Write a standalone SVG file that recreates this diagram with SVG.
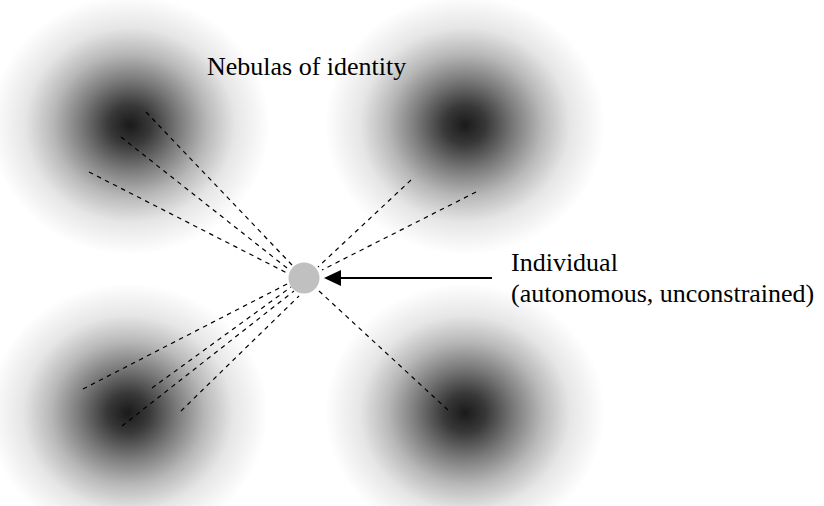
<svg xmlns="http://www.w3.org/2000/svg" width="824" height="506" viewBox="0 0 824 506">
<defs>
<radialGradient id="neb" cx="50%" cy="50%" r="50%">
<stop offset="0" stop-color="#000" stop-opacity="0.9"/>
<stop offset="0.15" stop-color="#000" stop-opacity="0.78"/>
<stop offset="0.35" stop-color="#000" stop-opacity="0.52"/>
<stop offset="0.55" stop-color="#000" stop-opacity="0.28"/>
<stop offset="0.75" stop-color="#000" stop-opacity="0.1"/>
<stop offset="1" stop-color="#000" stop-opacity="0"/>
</radialGradient>
</defs>
<style>
.neb{fill:url(#neb)}
.dash{stroke:#000;stroke-width:1.2;stroke-dasharray:4.5 4.5;fill:none}
.lbl{font-family:"Liberation Serif",Tinos,Times,"Noto Serif","DejaVu Serif",FreeSerif,serif;font-size:26px;fill:#000}
</style>
<rect width="824" height="506" fill="#fff"/>
<g id="nebula-tl"><ellipse class="neb" cx="130" cy="125" rx="140" ry="130"/></g>
<g id="nebula-tr"><ellipse class="neb" cx="465" cy="125" rx="140" ry="130"/></g>
<g id="nebula-bl"><ellipse class="neb" cx="128" cy="413" rx="140" ry="130"/></g>
<g id="nebula-br"><ellipse class="neb" cx="465" cy="413" rx="140" ry="130"/></g>
<g id="connectors">
<line class="dash" x1="146" y1="112" x2="292" y2="265"/>
<line class="dash" x1="121" y1="137" x2="287" y2="268"/>
<line class="dash" x1="89" y1="172" x2="287" y2="273"/>
<line class="dash" x1="411" y1="180" x2="318" y2="267"/>
<line class="dash" x1="476" y1="192" x2="322" y2="270"/>
<line class="dash" x1="83" y1="389" x2="289" y2="283"/>
<line class="dash" x1="152" y1="388" x2="291" y2="287"/>
<line class="dash" x1="122" y1="426" x2="294" y2="291"/>
<line class="dash" x1="181" y1="411" x2="299" y2="296"/>
<line class="dash" x1="448" y1="410" x2="319" y2="291"/>
<line x1="492" y1="278" x2="338" y2="278" stroke="#000" stroke-width="2"/>
<polygon points="324,278 341,270 341,286" fill="#000"/>
</g>
<g id="individual"><circle cx="304" cy="278" r="15.5" fill="#c0c0c0"/></g>
<g id="label-nebulas"><text class="lbl" x="207" y="75">Nebulas of identity</text></g>
<g id="label-individual"><text class="lbl" x="511" y="271">Individual</text><text class="lbl" x="511" y="302">(autonomous, unconstrained)</text></g>
</svg>
